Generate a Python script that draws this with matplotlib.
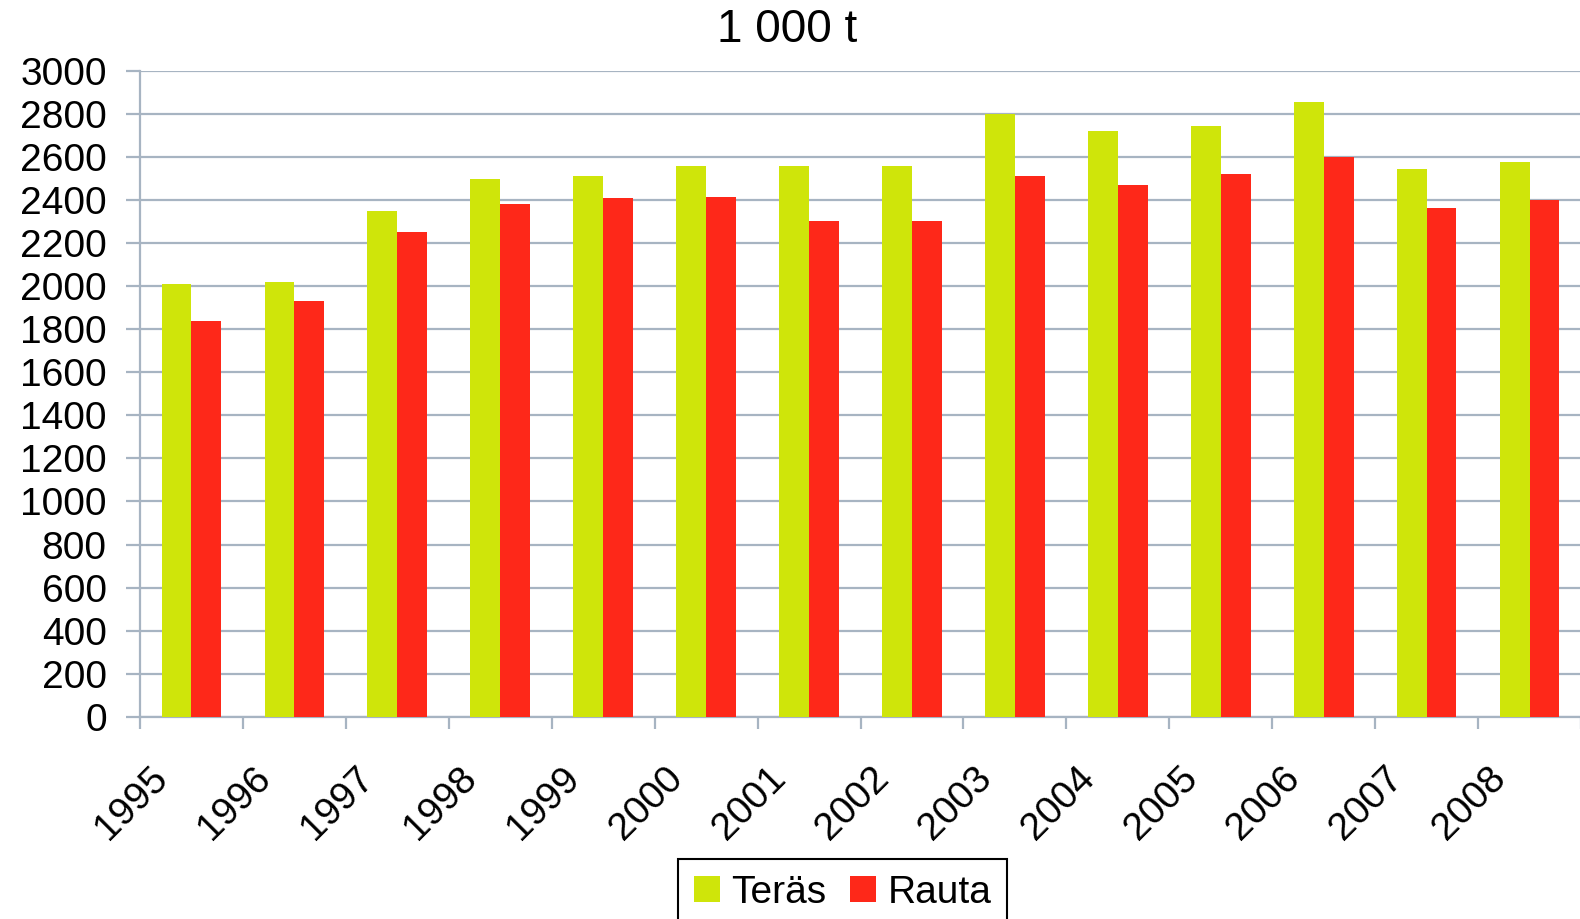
import matplotlib
matplotlib.use("Agg")
import matplotlib.pyplot as plt
import numpy as np
from matplotlib.transforms import ScaledTranslation
from matplotlib.patches import Patch

years = ["1995", "1996", "1997", "1998", "1999", "2000", "2001",
         "2002", "2003", "2004", "2005", "2006", "2007", "2008"]
teras = [2010, 2020, 2350, 2500, 2510, 2560, 2560, 2560, 2800, 2720, 2745, 2855, 2545, 2575]
rauta = [1840, 1930, 2250, 2380, 2410, 2415, 2305, 2305, 2510, 2470, 2520, 2600, 2365, 2400]
series_names = ["Teräs", "Rauta"]
yticks = list(range(0, 3001, 200))

GREEN = "#CFE50A"
RED = "#FE2819"
GRID = "#A7B4C2"
FONT = "Liberation Sans"

plt.rcParams["font.family"] = [FONT, "DejaVu Sans"]

W, H = 1580, 919
fig = plt.figure(figsize=(W / 100, H / 100), dpi=100)
left, right, top, bottom = 140, 1581, 71, 716.7
ax = fig.add_axes([left / W, 1 - bottom / H, (right - left) / W, (bottom - top) / H])

x = np.arange(len(years))
bw = 0.29
ax.bar(x - bw / 2, teras, width=bw, color=GREEN, zorder=3, linewidth=0)
ax.bar(x + bw / 2, rauta, width=bw, color=RED, zorder=3, linewidth=0)

ax.set_xlim(-0.5, len(years) - 0.5)
ax.set_ylim(0, 3000)
ax.set_yticks(yticks)
ax.set_yticklabels([str(v) for v in yticks])
ax.yaxis.grid(True, color=GRID, linewidth=1.6)
ax.set_axisbelow(True)

for s in ["top", "right"]:
    ax.spines[s].set_visible(False)
for s in ["left", "bottom"]:
    ax.spines[s].set_color(GRID)
    ax.spines[s].set_linewidth(1.6)

ax.tick_params(axis="y", length=10, width=1.6, color=GRID, direction="out",
               pad=14, labelsize=28, labelcolor="black")

ax.set_xticks(x)
ax.set_xticks(np.arange(-0.5, len(years), 1.0), minor=True)
ax.tick_params(axis="x", which="major", length=0, pad=0, labelsize=28)
ax.tick_params(axis="x", which="minor", length=8.6, width=1.6, color=GRID, direction="out")
ax.set_xticklabels(years, rotation=45, ha="right", va="center", rotation_mode="anchor")
off = ScaledTranslation(-0.29, -0.56, fig.dpi_scale_trans)
for lab in ax.get_xticklabels():
    lab.set_transform(lab.get_transform() + off)

fig.text(787 / W, 1 - 30 / H, "1 000 t", ha="center", va="center", fontsize=33)

handles = [Patch(facecolor=GREEN, edgecolor="none"), Patch(facecolor=RED, edgecolor="none")]
leg = fig.legend(handles, series_names, loc="upper center", bbox_to_anchor=(842.5 / W, 1 - 859 / H),
                 ncol=2, fontsize=28, frameon=True, fancybox=False, framealpha=1,
                 edgecolor="black", handlelength=0.67, handleheight=0.67,
                 handletextpad=0.3, columnspacing=0.6, borderpad=0.4, borderaxespad=0)
leg.get_frame().set_linewidth(1.5)

fig.savefig("out.png", dpi=100)
